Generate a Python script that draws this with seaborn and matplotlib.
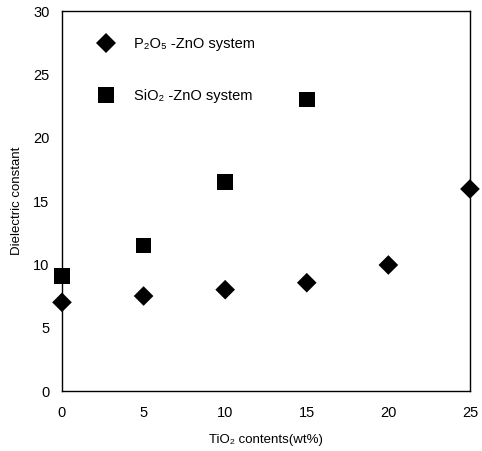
import matplotlib
matplotlib.use('Agg')
import matplotlib.pyplot as plt
import pandas as pd
import seaborn as sns

tio2 = [0, 5, 10, 15, 20, 25]
p2o5_zno = [7.0, 7.5, 8.0, 8.55, 9.95, 15.95]
tio2_si = [0, 5, 10, 15]
sio2_zno = [9.1, 11.5, 16.5, 23.0]

p_label = 'P₂O₅ -ZnO system'
s_label = 'SiO₂ -ZnO system'

sns.set_style('white')
plt.rcParams['font.family'] = ['Liberation Sans', 'DejaVu Sans']
plt.rcParams['text.color'] = 'black'
plt.rcParams['axes.labelcolor'] = 'black'
plt.rcParams['xtick.color'] = 'black'
plt.rcParams['ytick.color'] = 'black'

df = pd.concat([
    pd.DataFrame({'x': tio2, 'y': p2o5_zno, 'system': p_label}),
    pd.DataFrame({'x': tio2_si, 'y': sio2_zno, 'system': s_label}),
])

fig = plt.figure(figsize=(4.82, 4.51), dpi=100)
ax = fig.add_axes([0.1286, 0.133, 0.8464, 0.8426])

sns.scatterplot(data=df, x='x', y='y', style='system', size='system',
                markers={p_label: 'D', s_label: 's'},
                sizes={p_label: 100, s_label: 125},
                color='black', edgecolor='black', linewidth=0, ax=ax, clip_on=False)

ax.set_xlim(0, 25)
ax.set_ylim(0, 30)
ax.set_xticks([0, 5, 10, 15, 20, 25])
ax.set_yticks([0, 5, 10, 15, 20, 25, 30])
ax.tick_params(axis='x', direction='in', length=4, width=0.8, pad=11, labelsize=10.5)
ax.tick_params(axis='y', length=0, pad=9, labelsize=10.5)
ax.set_xlabel('TiO₂ contents(wt%)', fontsize=9.5, labelpad=10)
ax.set_ylabel('Dielectric constant', fontsize=9.5, labelpad=7)
for sp in ax.spines.values():
    sp.set_color('black')
    sp.set_linewidth(1.0)

ax.legend(loc='upper left', bbox_to_anchor=(0.04, 0.965), frameon=False,
          labelspacing=2.6, handletextpad=0.9, fontsize=10.5, markerscale=1.0)

fig.savefig('out.png', dpi=100)
